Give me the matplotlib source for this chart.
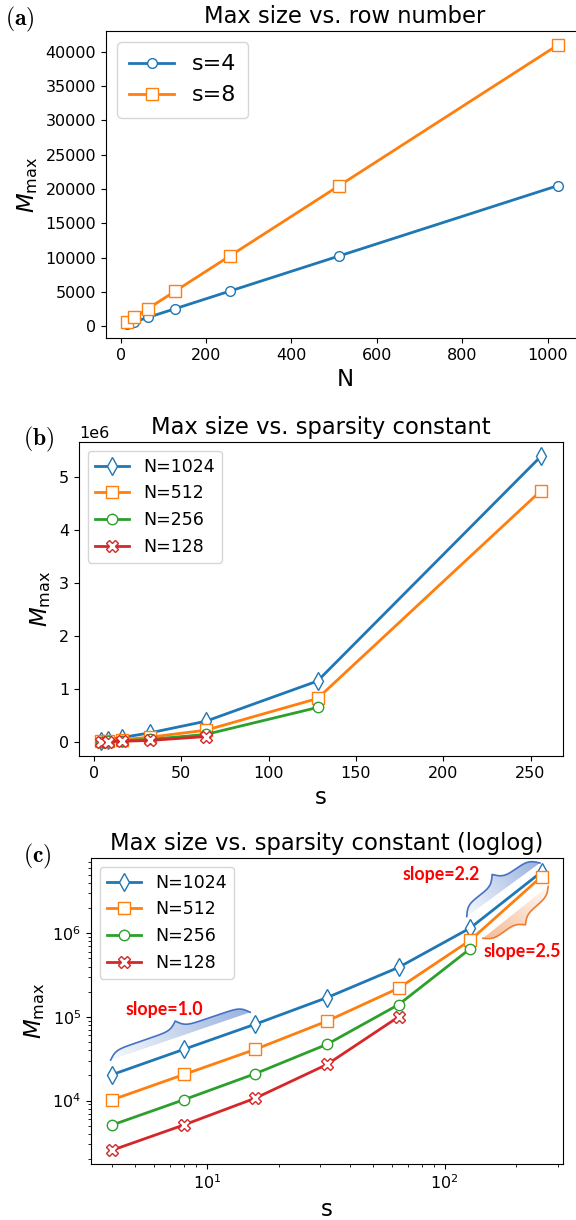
import numpy as np
import matplotlib
matplotlib.use("Agg")
from matplotlib import pyplot as plt
from matplotlib.patches import Polygon

# ---- data ----
N_rows = [16, 32, 64, 128, 256, 512, 1024]
M_s4 = [320, 640, 1280, 2560, 5120, 10240, 20480]
M_s8 = [640, 1280, 2560, 5120, 10240, 20480, 40960]

s_vals = [4, 8, 16, 32, 64, 128, 256]
M_N1024 = [20480, 41000, 82000, 170000, 390000, 1150000, 5400000]
M_N512 = [10240, 20500, 41000, 89000, 220000, 820000, 4750000]
M_N256 = [5120, 10240, 21000, 47000, 140000, 650000]
M_N128 = [2560, 5120, 10700, 27000, 100000]

series_b = [
    ("N=1024", M_N1024, "d", 9),
    ("N=512", M_N512, "s", 8),
    ("N=256", M_N256, "o", 7.5),
    ("N=128", M_N128, "X", 8),
]
colors = ["tab:blue", "tab:orange", "tab:green", "tab:red"]

W, H = 576, 1220
fig = plt.figure(figsize=(W / 100, H / 100), dpi=100)


def px_axes(left, right, top, bottom):
    return fig.add_axes([left / W, 1 - bottom / H, (right - left) / W, (bottom - top) / H])


TICK = 11.5
LAB = 16.5
TITLE = 16.3
ylab = r"$M_{\mathrm{max}}$"


def panel_letter(x, y, s):
    fig.text(x / W, 1 - y / H, r"$\mathbf{(%s)}$" % s, math_fontfamily="cm",
             fontsize=17, va="center", ha="left")


# ---- (a) ----  right spine falls just outside the picture in the reference
ax1 = px_axes(106, 584, 31, 338)
ax1.plot(N_rows, M_s4, "-o", color=colors[0], mfc="white", ms=7, lw=2, label="s=4")
ax1.plot(N_rows, M_s8, "-s", color=colors[1], mfc="white", ms=8, lw=2, label="s=8")
ax1.set_xlim(-34.2, 1085)
ax1.spines["right"].set_visible(False)
ax1.set_title("Max size vs. row number", fontsize=TITLE)
ax1.set_xlabel("N", fontsize=LAB)
ax1.set_ylabel(ylab, fontsize=LAB)
ax1.tick_params(labelsize=TICK)
ax1.legend(loc="upper left", fontsize=16, borderpad=0.55)
panel_letter(5, 19, "a")

# ---- (b) ----
ax2 = px_axes(79, 563, 442, 756)
for (lab, vals, mk, ms), c in zip(series_b, colors):
    ax2.plot(s_vals[:len(vals)], vals, "-" + mk, color=c, mfc="white", ms=ms, lw=2, label=lab)
ax2.set_title("Max size vs. sparsity constant", fontsize=TITLE)
ax2.set_xlabel("s", fontsize=LAB)
ax2.set_ylabel(ylab, fontsize=LAB)
ax2.tick_params(labelsize=TICK)
ax2.yaxis.get_offset_text().set_fontsize(TICK)
ax2.legend(loc="upper left", fontsize=12.5)
panel_letter(23, 439, "b")

# ---- (c) ----
ax3 = px_axes(91, 563, 858, 1164)
for (lab, vals, mk, ms), c in zip(series_b, colors):
    ax3.loglog(s_vals[:len(vals)], vals, "-" + mk, color=c, mfc="white", ms=ms, lw=2, label=lab)
ax3.set_title("Max size vs. sparsity constant (loglog)", fontsize=TITLE)
ax3.set_xlabel("s", fontsize=LAB)
ax3.set_ylabel(ylab, fontsize=LAB)
ax3.tick_params(labelsize=TICK)
ax3.legend(loc="upper left", fontsize=12.5)
panel_letter(23, 856, "c")

# lock limits so data->pixel transform is final
ax3.set_xlim(ax3.get_xlim())
ax3.set_ylim(ax3.get_ylim())

# overlay in figure fraction for the decorative braces
ov = fig.add_axes([0, 0, 1, 1], zorder=5)
ov.axis("off")


def brace(p0, p1, h, edge, fill, a0, a1):
    """curly brace between two data points of ax3, offset h pixels (sign = side)"""
    q0, q1 = ax3.transData.transform([p0, p1])
    d = q1 - q0
    L = np.hypot(*d)
    u = d / L
    nrm = np.array([-u[1], u[0]])
    beta = L / 4.0
    t = np.linspace(0, 0.5, 150)
    half = 1 / (1 + np.exp(-beta * t)) + 1 / (1 + np.exp(-beta * (t - 0.5))) - 0.5
    tt = np.concatenate([t, 1 - t[::-1]])
    yy = np.concatenate([half, half[::-1]])
    pts = q0 + np.outer(tt * L, u) + np.outer(yy * h, nrm)
    pf = pts / [W, H]
    poly = Polygon(pf, closed=True, fc="none", ec="none", transform=ov.transData)
    ov.add_patch(poly)
    # gradient image along the chord
    x0, y0 = pf.min(axis=0)
    x1, y1 = pf.max(axis=0)
    gx, gy = np.meshgrid(np.linspace(x0, x1, 120), np.linspace(y0, y1, 120))
    proj = ((gx * W - q0[0]) * u[0] + (gy * H - q0[1]) * u[1]) / L
    proj = np.clip(proj, 0, 1)
    rgba = np.zeros(gx.shape + (4,))
    rgba[..., :3] = matplotlib.colors.to_rgb(fill)
    rgba[..., 3] = a0 + (a1 - a0) * proj
    im = ov.imshow(rgba, extent=[x0, x1, y0, y1], origin="lower", aspect="auto",
                   interpolation="bilinear")
    im.set_clip_path(poly)
    ov.plot(pf[:, 0], pf[:, 1], color=edge, lw=1.2)


brace((3.93, 3.05e4), (15.2, 1.135e5), 16, "#4472C4", "#4472C4", 0.05, 0.55)
brace((124, 1.58e6), (252, 6.9e6), 19, "#4472C4", "#4472C4", 0.05, 0.55)
brace((145, 8.7e5), (273, 3.63e6), -16, "#ED7D31", "#F08A4B", 0.6, 0.05)
ov.set_xlim(0, 1)
ov.set_ylim(0, 1)

red_kw = dict(color="red", fontsize=12.8, fontweight="bold", family=["Lato", "DejaVu Sans"],
              ha="center", va="center")
ax3.text(6.6, 1.21e5, "slope=1.0", **red_kw)
ax3.text(96.4, 4.97e6, "slope=2.2", **red_kw)
ax3.text(213, 6.04e5, "slope=2.5", **red_kw)

fig.savefig("out.png", dpi=100)
